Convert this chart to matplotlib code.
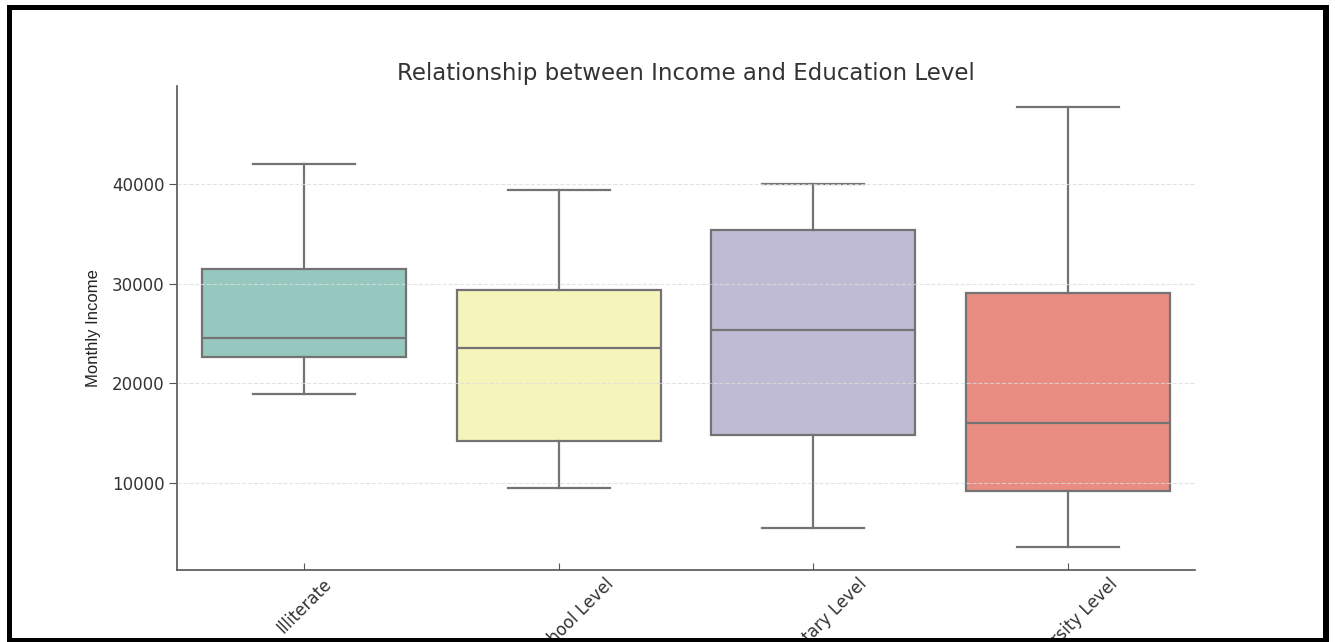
import matplotlib
matplotlib.use('Agg')
import matplotlib.pyplot as plt
from matplotlib.patches import Rectangle

# 학력별 월 소득
levels = ['Illiterate', 'High School Level', 'Elementary Level', 'University Level']
whisker_low = [18900, 9500, 5500, 3600]
q1 = [22600, 14200, 14800, 9200]
median = [24500, 23500, 25300, 16000]
q3 = [31500, 29400, 35400, 29100]
whisker_high = [42000, 39400, 40000, 47700]
box_colors = ['#96c8bf', '#f5f4bb', '#c0bbd5', '#e98c81']
y_ticks = [10000, 20000, 30000, 40000]

W, H = 1335, 642
fig = plt.figure(figsize=(W / 100, H / 100), dpi=100)
ax = fig.add_axes([177 / W, 1 - 570 / H, (1195 - 177) / W, (570 - 86) / H])

# bxp에 넘길 통계값
stats = []
for i, name in enumerate(levels):
    stats.append({'label': name, 'whislo': whisker_low[i], 'q1': q1[i], 'med': median[i],
                  'q3': q3[i], 'whishi': whisker_high[i], 'fliers': []})

line_kw = dict(color='#737373', linewidth=1.6)
bp = ax.bxp(stats, positions=range(len(levels)), widths=0.8, patch_artist=True,
            showfliers=False, boxprops=dict(edgecolor='#737373', linewidth=1.6),
            medianprops=line_kw, whiskerprops=line_kw, capprops=line_kw)
for patch, c in zip(bp['boxes'], box_colors):
    patch.set_facecolor(c)

ax.set_xlim(-0.5, len(levels) - 0.5)
ax.set_ylim(1300, 49800)
ax.set_yticks(y_ticks)
ax.set_xticks(range(len(levels)))
ax.set_xticklabels(levels, rotation=45, fontsize=12, color='#333333')
ax.tick_params(axis='y', labelsize=12, labelcolor='#333333', color='#555555', length=6, pad=3)
ax.tick_params(axis='x', direction='in', color='#555555', length=5)

# 격자선은 상자 위에 그려짐
ax.set_axisbelow(False)
ax.yaxis.grid(True, linestyle='--', color='#dddddd', linewidth=0.8, alpha=0.8)

for s in ['top', 'right']:
    ax.spines[s].set_visible(False)
for s in ['left', 'bottom']:
    ax.spines[s].set_color('#555555')
    ax.spines[s].set_linewidth(1.2)

ax.set_title('Relationship between Income and Education Level', fontsize=16.5,
             color='#333333', pad=4)
ax.set_ylabel('Monthly Income', fontsize=12, color='#222222',
              family=['Liberation Sans Narrow', 'Liberation Sans', 'DejaVu Sans'], labelpad=8)

# 스크린샷의 검은 테두리
def px_rect(x0, y0, x1, y1):
    fig.add_artist(Rectangle((x0 / W, 1 - y1 / H), (x1 - x0) / W, (y1 - y0) / H,
                             transform=fig.transFigure, facecolor='black',
                             edgecolor='none', zorder=10))

px_rect(7, 5, 12, 642)
px_rect(7, 5, 1329, 10)
px_rect(1323, 5, 1329, 642)
px_rect(7, 638, 1329, 642)

fig.savefig('out.png', dpi=100)
